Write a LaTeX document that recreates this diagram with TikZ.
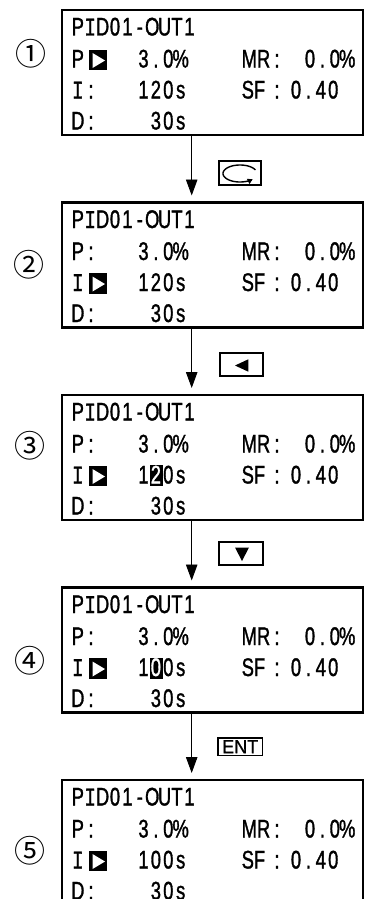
\documentclass[tikz,border=0pt]{standalone}
\usepackage{fontspec}
\usetikzlibrary{arrows.meta}
\newfontfamily\lcdfont{Liberation Sans}[FakeStretch=0.72,FakeBold=1.2]
\newfontfamily\lcdifont{Liberation Mono}[FakeStretch=0.75,FakeBold=1.2]
\newfontfamily\circfont{Noto Sans CJK JP}
\newfontfamily\keyfont{Liberation Sans}[FakeStretch=0.95,FakeBold=0.8]
\newcommand\lcdI{{\lcdifont I}}
\tikzset{
  lcd/.style={font=\lcdfont\fontsize{25.5}{25.5}\selectfont, anchor=base, inner sep=0pt, outer sep=0pt},
  lcdw/.style={lcd, anchor=base west},
  lcdbox/.style={draw, line width=2.4pt, minimum width=301.3pt, minimum height=125pt, inner sep=0pt, outer sep=0pt},
  keybox/.style={draw, line width=1.1pt, inner sep=0pt, outer sep=0pt},
  conn/.style={line width=0.9pt, -{Triangle[length=16pt,width=11.5pt]}, shorten >=7pt},
  circ/.style={font=\circfont\fontsize{31}{31}\selectfont, inner sep=0pt},
}
\newcommand\lcdrow[4]{\foreach \ch [count=\k from 0] in {#4}{\node[lcd] (#1\k) at ({#2+\k*12.4},{#3}) {\ch};}}
\newcommand\selmark[1]{%
  \fill (89.3,{#1-17.8}) rectangle (106.7,{#1+2.8});
  \fill[white] (92.5,{#1-14.5}) -- (105,{#1-7}) -- (92.5,{#1+0.5}) -- cycle;}
\newcommand\hilite[1]{\fill (149.5,{#1-18.5}) rectangle (163,{#1+2.5});}
\newcommand\screen[2]{%
  \node[lcdbox] (#1) at (212.35,{#2+62.5}) {};
  \lcdrow{#1t}{77.8}{#2+25.5}{P,\lcdI,D,0,1,-,O,U,T,1}
  \node[lcd] (#1p) at (77.8,{#2+57.5}) {P};
  \lcdrow{#1pv}{143.5}{#2+57.5}{3,.,0,\%}
  \node[lcdw] (#1mr) at (241.7,{#2+57.5}) {MR};
  \node[lcd] (#1mc) at (277,{#2+57.5}) {:};
  \lcdrow{#1mv}{310}{#2+57.5}{0,.,0,\%}
  \node[lcd] (#1i) at (77.8,{#2+88.5}) {\lcdI};
  \node[lcdw] (#1sf) at (241.7,{#2+88.5}) {SF};
  \node[lcd] (#1sc) at (277,{#2+88.5}) {:};
  \lcdrow{#1sv}{296}{#2+88.5}{0,.,4,0}
  \node[lcd] (#1d) at (77.8,{#2+119.5}) {D};
  \node[lcd] (#1dc) at (91,{#2+119.5}) {:};
  \lcdrow{#1dv}{155.9}{#2+119.5}{3,0,s}
}
\begin{document}
\begin{tikzpicture}[x=1pt,y=-1pt]
\useasboundingbox (0,0) rectangle (365,899);
\clip (0,0) rectangle (365,899);
% screen 1
\screen{s1}{10}
\selmark{67.5}
\node[lcd] (s1ic) at (91,98.5) {:};
\lcdrow{s1iv}{143.5}{98.5}{1,2,0,s}
% screen 2
\screen{s2}{202.5}
\node[lcd] (s2pc) at (91,260) {:};
\selmark{291}
\lcdrow{s2iv}{143.5}{291}{1,2,0,s}
% screen 3
\screen{s3}{395}
\node[lcd] (s3pc) at (91,452.5) {:};
\selmark{483.5}
\hilite{483.5}
\lcdrow{s3iv}{143.5}{483.5}{1,{\color{white}2},0,s}
% screen 4
\screen{s4}{587.5}
\node[lcd] (s4pc) at (91,645) {:};
\selmark{676}
\hilite{676}
\lcdrow{s4iv}{143.5}{676}{1,{\color{white}0},0,s}
% screen 5
\screen{s5}{780}
\node[lcd] (s5pc) at (91,837.5) {:};
\selmark{868.5}
\lcdrow{s5iv}{143.5}{868.5}{1,0,0,s}
% circled numbers
\node[circ] (n1) at (31.5,54) {①};
\node[circ] (n2) at (28.5,265) {②};
\node[circ] (n3) at (30,446) {③};
\node[circ] (n4) at (30,661) {④};
\node[circ] (n5) at (30,851) {⑤};
% connectors
\coordinate (cx) at (191.7,0);
\draw[conn] (s1.south -| cx) -- (s2.north -| cx);
\draw[conn] (s2.south -| cx) -- (s3.north -| cx);
\draw[conn] (s3.south -| cx) -- (s4.north -| cx);
\draw[conn] (s4.south -| cx) -- (s5.north -| cx);
% keys
\node[keybox, minimum width=42pt, minimum height=24pt] (k1) at (240,173) {};
\draw[line width=1.4pt, -{Triangle[length=5pt,width=5.5pt]}] plot[domain=25:318, samples=60] ({240+17*cos(-\x)},{173.5+8.5*sin(-\x)});
\node[keybox, minimum width=43pt, minimum height=23pt] (k2) at (241.5,364.5) {};
\fill (235,365.5) -- (248.3,359.3) -- (248.3,371.7) -- cycle;
\node[keybox, minimum width=44pt, minimum height=23pt] (k3) at (241,553.5) {};
\fill (235,547.5) -- (249,547.5) -- (242,561) -- cycle;
\node[keybox, minimum width=44.5pt, minimum height=17.5pt, font=\keyfont\fontsize{19}{19}\selectfont] (k4) at (240.2,746.7) {ENT};
\end{tikzpicture}
\end{document}
